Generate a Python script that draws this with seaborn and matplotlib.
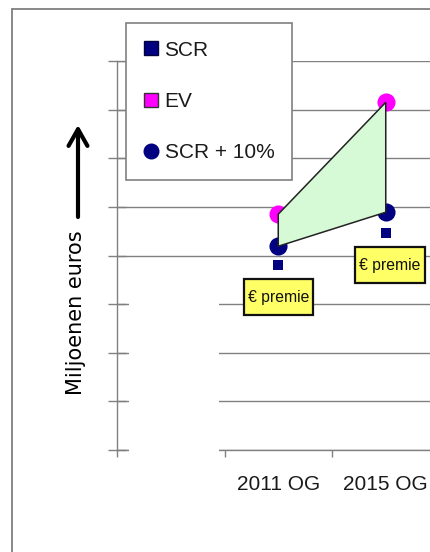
import matplotlib
matplotlib.use('Agg')
import matplotlib.pyplot as plt
import seaborn as sns
import pandas as pd
import numpy as np
from matplotlib.patches import Rectangle, FancyArrowPatch
from matplotlib.lines import Line2D
from matplotlib.path import Path

# ---- data ----
categories = ["2011 OG", "2015 OG"]
scr = [3.80, 4.46]
ev = [4.85, 7.15]
scr_plus_10 = [4.19, 4.89]
y_ticks = list(range(0, 9))
series_labels = ["SCR", "EV", "SCR + 10%"]
premie_label = "€ premie"
y_label = "Miljoenen euros"

sns.set_style('white')
plt.rcParams['font.family'] = ['Liberation Sans', 'DejaVu Sans']

W, H = 430, 552
fig = plt.figure(figsize=(W / 100, H / 100), dpi=100)


def fx(px):
    return px / W


def fy(py):
    return 1 - py / H


ax_left, ax_right, ax_top, ax_bottom = 117, 439.5, 61, 450
ax = fig.add_axes([fx(ax_left), fy(ax_bottom), (ax_right - ax_left) / W, (ax_bottom - ax_top) / H])

xpos = np.arange(len(categories))
df = pd.DataFrame({'x': xpos, 'SCR': scr, 'EV': ev, 'SCR10': scr_plus_10})
gray = '#808080'
navy = '#000080'
magenta = '#ff00ff'

sns.scatterplot(data=df, x='x', y='EV', color=magenta, marker='o', s=170, linewidth=0, ax=ax, zorder=3)
sns.scatterplot(data=df, x='x', y='SCR10', color=navy, marker='o', s=170, linewidth=0, ax=ax, zorder=3)
sns.scatterplot(data=df, x='x', y='SCR', color=navy, marker='s', s=55, linewidth=0, ax=ax, zorder=3)

ax.fill(np.r_[xpos, xpos[::-1]], np.r_[ev, scr_plus_10[::-1]],
        facecolor='#d6f9d6', edgecolor='#222222', lw=1.1, zorder=4)

ax.set_xlim(-1.5, 1.5)
ax.set_ylim(0, 8)
ax.set_xticks(xpos, labels=categories)
ax.set_xticks([-1.5, -0.5, 0.5, 1.5], minor=True)
ax.tick_params(axis='x', which='major', bottom=True, length=0, pad=18, labelsize=15, labelcolor='#1a1a1a')
ax.tick_params(axis='x', which='minor', bottom=True, length=5, width=1, color=gray, direction='out')
ax.set_yticks(y_ticks, labels=[])
ax.tick_params(axis='y', which='major', left=True, length=13, direction='inout', color=gray, width=1)
ax.yaxis.grid(True, color=gray, lw=1)
ax.xaxis.grid(False)
ax.set_axisbelow(True)
for s in ['top', 'right']:
    ax.spines[s].set_visible(False)
for s in ['left', 'bottom']:
    ax.spines[s].set_color(gray)
    ax.spines[s].set_linewidth(1)
ax.set_xlabel('')
ax.set_ylabel('')


# premie boxes
def premie_box(x0, y0, width, height, mutation_size):
    px = 0.25 * mutation_size
    py = 0.68 * mutation_size
    x0 -= px
    y0 -= py
    x1 = x0 + width + 2 * px
    y1 = y0 + height + 2 * py
    return Path([(x0, y0), (x1, y0), (x1, y1), (x0, y1), (x0, y0)], closed=True)


x_offsets = [0.0, 0.04]
for xi, s_val, dx in zip(xpos, scr, x_offsets):
    ax.text(xi + dx, s_val - 0.66, premie_label, ha='center', va='center', fontsize=11.3,
            color='#111111', zorder=6,
            bbox=dict(boxstyle=premie_box, facecolor='#ffff66', edgecolor='#111111', lw=1.6))

# legend
handles = [
    Line2D([], [], ls='none', marker='s', ms=10, mfc=navy, mec='#000040', label=series_labels[0]),
    Line2D([], [], ls='none', marker='s', ms=10, mfc=magenta, mec='#333333', label=series_labels[1]),
    Line2D([], [], ls='none', marker='o', ms=10.5, mfc=navy, mec=navy, label=series_labels[2]),
]
leg = ax.legend(handles=handles, loc='upper left', bbox_to_anchor=(fx(126), fy(23)),
                bbox_transform=fig.transFigure, borderaxespad=0, frameon=True, fancybox=False,
                edgecolor=gray, framealpha=1, fontsize=15, labelspacing=1.55, handlelength=0.7,
                handletextpad=0.3, borderpad=0.85)
leg.get_frame().set_linewidth(1.2)
for t in leg.get_texts():
    t.set_color('#1a1a1a')

# white cover band left of the plot
fig.add_artist(Rectangle((fx(129), 0), fx(219) - fx(129), fy(280), transform=fig.transFigure,
                         facecolor='white', edgecolor='none', zorder=5))

# outer frame
fig.add_artist(Line2D([fx(12), fx(12)], [fy(9), 0], transform=fig.transFigure, color=gray, lw=1.3))
fig.add_artist(Line2D([fx(12), 1], [fy(9), fy(9)], transform=fig.transFigure, color=gray, lw=1.3))

# y label and arrow
fig.text(fx(76), fy(313), y_label, rotation=90, ha='center', va='center', fontsize=15,
         family=['DejaVu Sans'], color='black')
fig.add_artist(FancyArrowPatch(posA=(fx(78), fy(217)), posB=(fx(78), fy(125)),
                               transform=fig.transFigure, arrowstyle='->,head_length=0.6,head_width=0.34',
                               mutation_scale=20, lw=3, color='black', shrinkA=0, shrinkB=0))

fig.savefig('out.png', dpi=100)
